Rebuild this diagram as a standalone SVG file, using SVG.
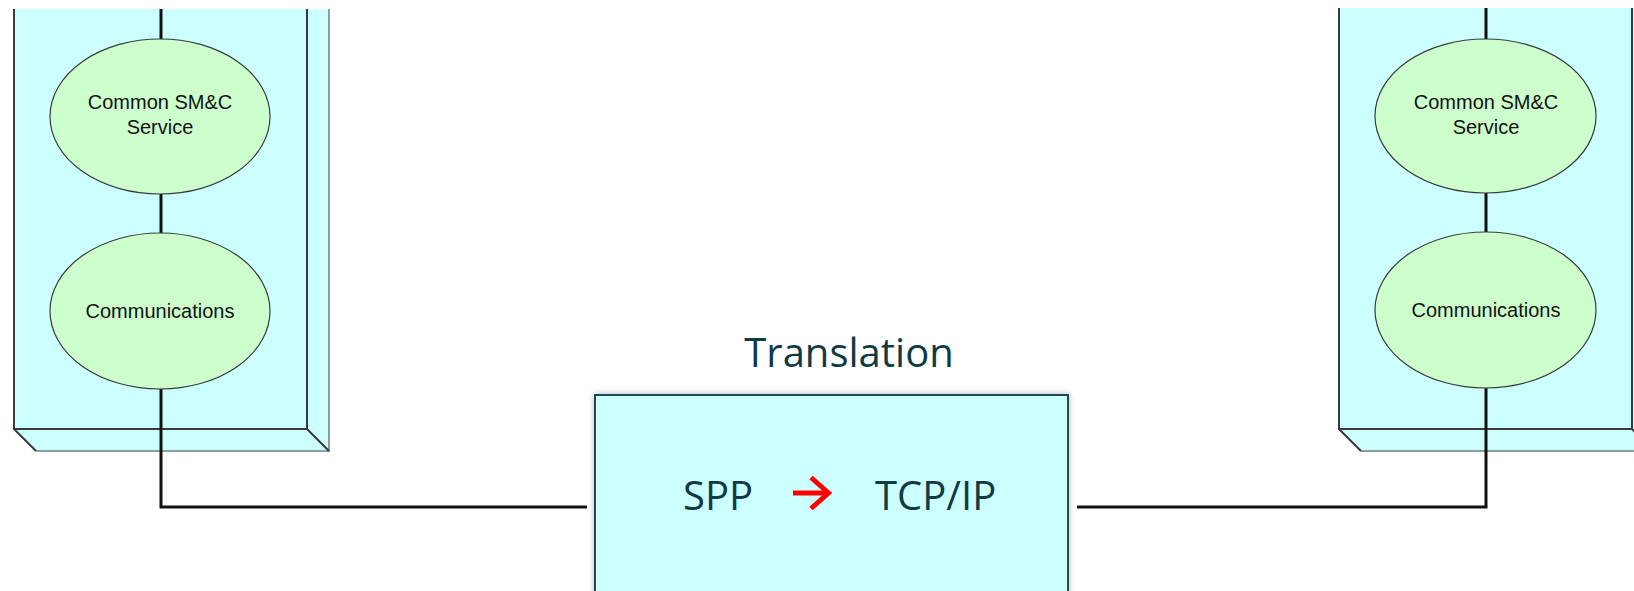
<svg xmlns="http://www.w3.org/2000/svg" width="1634" height="591" viewBox="0 0 1634 591">
  <defs>
    <style>
      .face { fill: #ccffff; stroke: none; }
      .edge { fill: none; stroke: #3a3a3a; stroke-width: 2; }
      .edge-far { fill: none; stroke: #8e9c9c; stroke-width: 2; }
      .svc { fill: #ccffcc; stroke: #3a3a3a; stroke-width: 1.2; }
      .svc-label { font-family: "Liberation Sans", Arial, sans-serif; font-size: 20px; fill: #111; text-anchor: middle; }
      .wire { fill: none; stroke: #111; stroke-width: 3; }
      .xlate { fill: #ccffff; stroke: #1c4a55; stroke-width: 2; }
      .xlate-text { font-family: "Open Sans", "Noto Sans", sans-serif; font-size: 40px; fill: #113a44; }
    </style>
    <filter id="softShadow" x="-5%" y="-5%" width="110%" height="110%">
      <feDropShadow dx="0" dy="0" stdDeviation="3" flood-color="#000" flood-opacity="0.3"/>
    </filter>
  </defs>

  <!-- left station: extruded panel -->
  <g id="station-left">
    <rect class="face" x="14" y="9" width="293" height="420"/>
    <polygon class="face" points="307,9 329,9 329,451 307,429"/>
    <polygon class="face" points="14,429 307,429 329,451 36,451"/>
    <path class="edge-far" d="M329,9 V451 H36"/>
    <path class="edge" d="M14,9 V429 H307 V9 M307,429 L329,451 M14,429 L36,451"/>
  </g>

  <!-- right station: extruded panel, cut by the right border -->
  <g id="station-right">
    <rect class="face" x="1339" y="8" width="293" height="421"/>
    <polygon class="face" points="1632,8 1654,8 1654,451 1632,429"/>
    <polygon class="face" points="1339,429 1632,429 1654,451 1361,451"/>
    <path class="edge-far" d="M1654,451 H1361"/>
    <path class="edge" d="M1339,8 V429 H1632 V8 M1339,429 L1361,451 M1632,429 L1654,451"/>
  </g>

  <!-- wiring -->
  <g id="connectors">
    <path class="wire" d="M161,9 V507 H587"/>
    <path class="wire" d="M1486,8 V507 H1077"/>
  </g>

  <g id="left-smc">
    <ellipse class="svc" cx="160" cy="116.5" rx="110" ry="77.5"/>
    <text class="svc-label" x="160" y="109">Common SM&amp;C</text>
    <text class="svc-label" x="160" y="134">Service</text>
  </g>
  <g id="left-comms">
    <ellipse class="svc" cx="160" cy="311" rx="110" ry="78"/>
    <text class="svc-label" x="160" y="318">Communications</text>
  </g>

  <g id="right-smc">
    <ellipse class="svc" cx="1485.5" cy="116" rx="110.5" ry="77"/>
    <text class="svc-label" x="1486" y="109">Common SM&amp;C</text>
    <text class="svc-label" x="1486" y="134">Service</text>
  </g>
  <g id="right-comms">
    <ellipse class="svc" cx="1485.5" cy="310" rx="110.5" ry="78"/>
    <text class="svc-label" x="1486" y="317">Communications</text>
  </g>

  <!-- protocol translation gateway -->
  <g id="translation">
    <text class="xlate-text" x="849" y="367" text-anchor="middle">Translation</text>
    <rect class="xlate" x="595" y="395" width="473" height="215" filter="url(#softShadow)"/>
    <text class="xlate-text" x="683" y="510">SPP</text>
    <path d="M793,493 H827 M811,477.5 L828.5,493 L811,508.5" fill="none" stroke="#ff0000" stroke-width="5"/>
    <text class="xlate-text" x="875" y="510">TCP/IP</text>
  </g>
</svg>
